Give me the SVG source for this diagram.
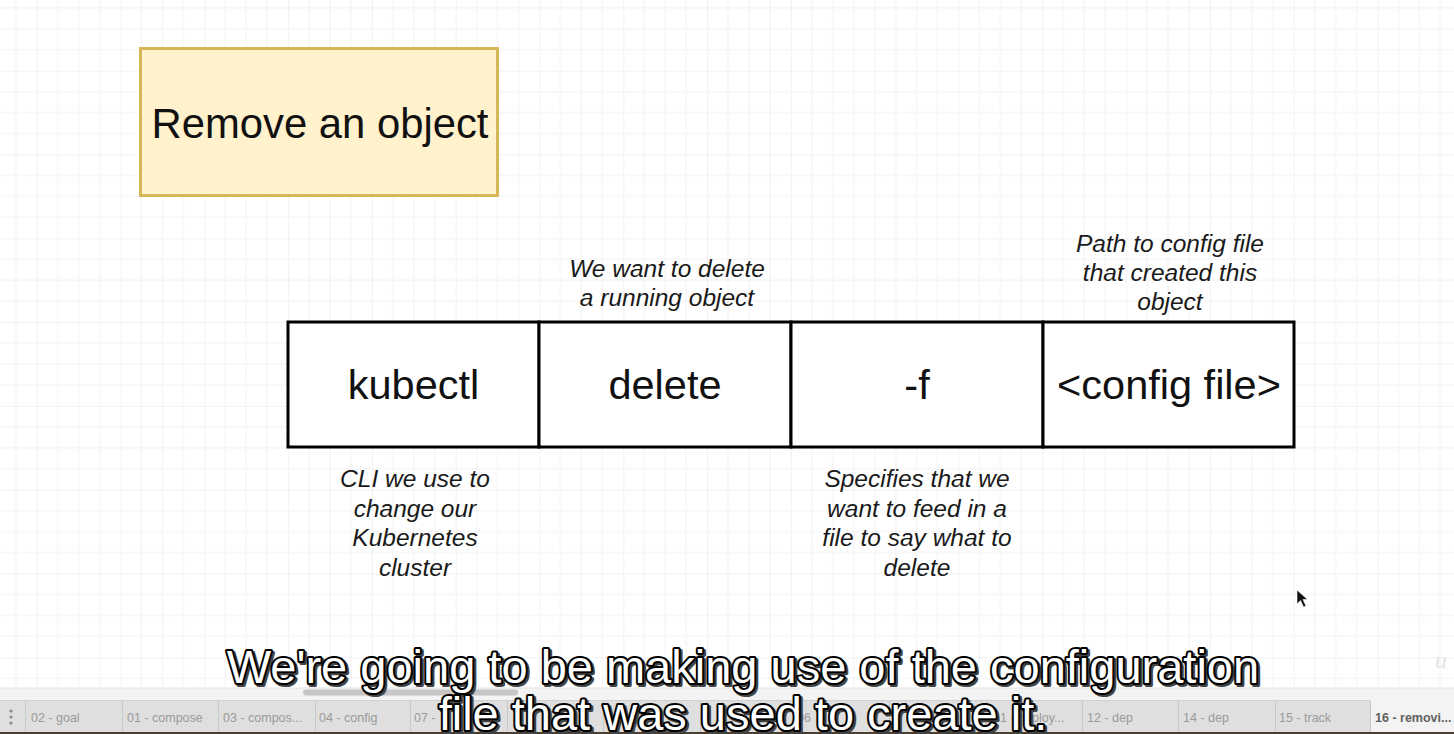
<svg xmlns="http://www.w3.org/2000/svg" width="1454" height="734" viewBox="0 0 1454 734">
  <defs>
    <pattern id="grid" patternUnits="userSpaceOnUse" x="36.7" y="70.7" width="83.8" height="83.8">
      <path d="M20.95 0V83.8M41.9 0V83.8M62.85 0V83.8M0 20.95H83.8M0 41.9H83.8M0 62.85H83.8" fill="none" stroke="#f1f1f1" stroke-width="1"/>
      <path d="M0 0V83.8M0 0H83.8" fill="none" stroke="#e6e6e6" stroke-width="1"/>
    </pattern>
    <style>
      .cell { fill: #ffffff; stroke: #000000; stroke-width: 3; }
      .big { font-family: "Liberation Sans", Arial, sans-serif; font-size: 41.5px; fill: #111111; text-anchor: middle; }
      .note { font-family: "Liberation Sans", Arial, sans-serif; font-size: 24.5px; font-style: italic; fill: #1a1a1a; text-anchor: middle; }
      .tab { font-family: "Liberation Sans", Arial, sans-serif; font-size: 12.5px; fill: #9a9a9a; }
      .sep { stroke: #c9c9c9; stroke-width: 1; }
      .sub { font-family: "Liberation Sans", Arial, sans-serif; font-size: 47px; text-anchor: middle; }
      .subShadow { fill: #444444; stroke: #444444; stroke-width: 4; stroke-linejoin: round; }
      .subMain { fill: #ffffff; stroke: #000000; stroke-width: 4; stroke-linejoin: round; paint-order: stroke; }
    </style>
  </defs>

  <!-- canvas -->
  <rect x="0" y="0" width="1454" height="734" fill="#ffffff"/>
  <rect x="0" y="0" width="1454" height="688" fill="url(#grid)"/>

  <!-- title node -->
  <g id="title">
    <rect x="140.5" y="48.5" width="357" height="147" fill="#fff2cc" stroke="#d6b656" stroke-width="3"/>
    <text class="big" x="320" y="137.5" style="font-size:41.8px">Remove an object</text>
  </g>

  <!-- command table -->
  <g id="cell-kubectl">
    <rect class="cell" x="288" y="322" width="251" height="125"/>
    <text class="big" x="413.5" y="398.5">kubectl</text>
  </g>
  <g id="cell-delete">
    <rect class="cell" x="539" y="322" width="252" height="125"/>
    <text class="big" x="665" y="398.5">delete</text>
  </g>
  <g id="cell-f">
    <rect class="cell" x="791" y="322" width="252" height="125"/>
    <text class="big" x="917" y="398.5">-f</text>
  </g>
  <g id="cell-config">
    <rect class="cell" x="1043" y="322" width="251" height="125"/>
    <text class="big" x="1169" y="398.5">&lt;config file&gt;</text>
  </g>

  <!-- annotations -->
  <g id="note-delete">
    <text class="note" x="667" y="276.5">We want to delete</text>
    <text class="note" x="667" y="305.5">a running object</text>
  </g>
  <g id="note-config">
    <text class="note" x="1170" y="251.5">Path to config file</text>
    <text class="note" x="1170" y="280.5">that created this</text>
    <text class="note" x="1170" y="309.5">object</text>
  </g>
  <g id="note-kubectl">
    <text class="note" x="415" y="487">CLI we use to</text>
    <text class="note" x="415" y="516.5">change our</text>
    <text class="note" x="415" y="546">Kubernetes</text>
    <text class="note" x="415" y="575.5">cluster</text>
  </g>
  <g id="note-f">
    <text class="note" x="917" y="487">Specifies that we</text>
    <text class="note" x="917" y="516.5">want to feed in a</text>
    <text class="note" x="917" y="546">file to say what to</text>
    <text class="note" x="917" y="575.5">delete</text>
  </g>

  <g id="connectors"/>

  <!-- mouse cursor -->
  <g id="cursor">
    <polygon points="1297,590 1297,604 1300.5,600.5 1303.5,607 1306,606 1303,599.5 1307.5,599.5" fill="#111111" stroke="#ffffff" stroke-width="0.6"/>
  </g>

  <!-- watermark -->
  <text x="1435" y="668" font-family="'Liberation Serif', serif" font-style="italic" font-size="24" fill="#e4e4e4">u</text>

  <!-- bottom chrome -->
  <g id="bottom-bar">
    <rect x="0" y="688" width="1454" height="12" fill="#f3f3f3"/>
    <line x1="0" y1="688" x2="1454" y2="688" stroke="#e4e4e4" stroke-width="1"/>
    <rect x="303" y="689.5" width="215" height="6" rx="3" fill="#c6c6c6"/>
    <rect x="0" y="700" width="1454" height="32" fill="#dfdfdf"/>
    <line x1="0" y1="700.5" x2="1454" y2="700.5" stroke="#cfcfcf" stroke-width="1"/>
    <rect x="1370" y="700" width="84" height="32" fill="#f3f3f3"/>
    <circle cx="11" cy="711" r="1.6" fill="#8a8a8a"/>
    <circle cx="11" cy="717" r="1.6" fill="#8a8a8a"/>
    <circle cx="11" cy="723" r="1.6" fill="#8a8a8a"/>
    <line class="sep" x1="25.5" y1="701" x2="25.5" y2="732"/>
    <line class="sep" x1="122.5" y1="701" x2="122.5" y2="732"/>
    <line class="sep" x1="218.5" y1="701" x2="218.5" y2="732"/>
    <line class="sep" x1="315.5" y1="701" x2="315.5" y2="732"/>
    <line class="sep" x1="410.5" y1="701" x2="410.5" y2="732"/>
    <line class="sep" x1="507.5" y1="701" x2="507.5" y2="732"/>
    <line class="sep" x1="603.5" y1="701" x2="603.5" y2="732"/>
    <line class="sep" x1="700.5" y1="701" x2="700.5" y2="732"/>
    <line class="sep" x1="793.5" y1="701" x2="793.5" y2="732"/>
    <line class="sep" x1="889.5" y1="701" x2="889.5" y2="732"/>
    <line class="sep" x1="986.5" y1="701" x2="986.5" y2="732"/>
    <line class="sep" x1="1082.5" y1="701" x2="1082.5" y2="732"/>
    <line class="sep" x1="1178.5" y1="701" x2="1178.5" y2="732"/>
    <line class="sep" x1="1275.5" y1="701" x2="1275.5" y2="732"/>
    <line class="sep" x1="1370.5" y1="701" x2="1370.5" y2="732"/>
    <text class="tab" x="31" y="722">02 - goal</text>
    <text class="tab" x="127" y="722">01 - compose</text>
    <text class="tab" x="223" y="722">03 - compos...</text>
    <text class="tab" x="319" y="722">04 - config</text>
    <text class="tab" x="414" y="722">07 -</text>
    <text class="tab" x="797" y="722">06</text>
    <text class="tab" x="1000" y="722">1 - deploy...</text>
    <text class="tab" x="1087" y="722">12 - dep</text>
    <text class="tab" x="1183" y="722">14 - dep</text>
    <text class="tab" x="1279" y="722">15 - track</text>
    <text class="tab" x="1375" y="722" style="font-weight:bold;fill:#606060">16 - removi...</text>
    <rect x="0" y="732" width="1454" height="2" fill="#4a3e33"/>
  </g>

  <!-- subtitles -->
  <g id="subtitles" class="sub">
    <text class="subShadow" x="745" y="684.5">We're going to be making use of the configuration</text>
    <text class="subShadow" x="745" y="731.5">file that was used to create it.</text>
    <text class="subMain" x="743" y="682.5">We're going to be making use of the configuration</text>
    <text class="subMain" x="743" y="729.5">file that was used to create it.</text>
  </g>
</svg>
